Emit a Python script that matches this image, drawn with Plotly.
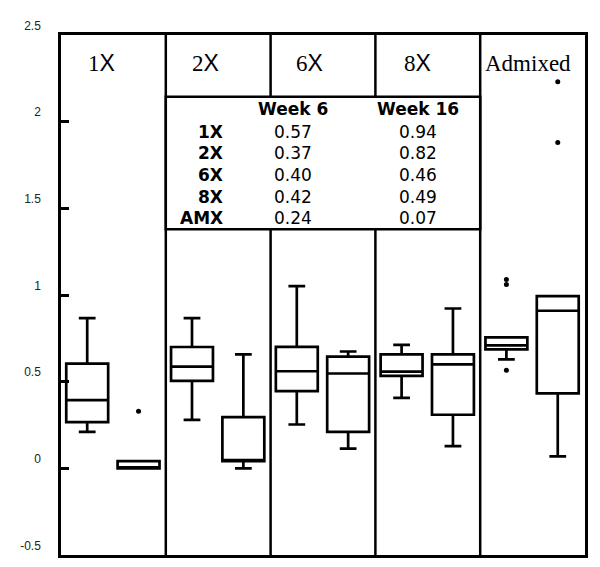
import plotly.graph_objects as go

# ---------------- data ----------------
groups = ["1X", "2X", "6X", "8X", "Admixed"]

# week 6 box statistics per group
w6_low = [0.21, 0.28, 0.253, 0.406, 0.629]
w6_q1 = [0.267, 0.505, 0.446, 0.533, 0.686]
w6_med = [0.394, 0.587, 0.56, 0.558, 0.709]
w6_q3 = [0.604, 0.70, 0.701, 0.657, 0.756]
w6_high = [0.867, 0.867, 1.051, 0.712, 0.756]

# week 16 box statistics per group
w16_low = [0.0, 0.0, 0.114, 0.128, 0.069]
w16_q1 = [0.0, 0.042, 0.21, 0.309, 0.432]
w16_med = [0.0, 0.042, 0.547, 0.60, 0.909]
w16_q3 = [0.042, 0.295, 0.644, 0.657, 0.994]
w16_high = [0.042, 0.657, 0.674, 0.922, 0.994]

# outliers: (group index, value)
w6_out_group = [4, 4, 4]
w6_out_val = [1.06, 1.09, 0.566]
w16_out_group = [0, 4, 4]
w16_out_val = [0.33, 2.23, 1.88]

# inset table
table_cols = ["Week 6", "Week 16"]
table_rows = ["1X", "2X", "6X", "8X", "AMX"]
table_w6 = ["0.57", "0.37", "0.40", "0.42", "0.24"]
table_w16 = ["0.94", "0.82", "0.46", "0.49", "0.07"]

y_ticks = [-0.5, 0, 0.5, 1, 1.5, 2, 2.5]
y_tick_text = ["-0.5", "0", "0.5", "1", "1.5", "2", "2.5"]

# ---------------- layout helpers ----------------
W, H = 600, 567
ML, MR, MT, MB = 61, 13, 35, 12
PW, PH = W - ML - MR, H - MT - MB
Y0, Y1 = -0.5, 2.5


def px_x(px):
    return (px - ML) / PW * 5


def px_y(py):
    return Y1 - (py - MT) / PH * (Y1 - Y0)


n = len(groups)
pos6 = [i + 0.25 for i in range(n)]
pos16 = [i + 0.74 for i in range(n)]

box_line = dict(color="black", width=2.7)

fig = go.Figure()
fig.add_trace(go.Box(
    x=pos6, q1=w6_q1, median=w6_med, q3=w6_q3,
    lowerfence=w6_low, upperfence=w6_high,
    width=0.4, whiskerwidth=0.4, fillcolor="rgba(255,255,255,0)",
    line=box_line, boxpoints=False, name="Week 6", showlegend=False,
))
fig.add_trace(go.Box(
    x=pos16, q1=w16_q1, median=w16_med, q3=w16_q3,
    lowerfence=w16_low, upperfence=w16_high,
    width=0.4, whiskerwidth=0.4, fillcolor="rgba(255,255,255,0)",
    line=box_line, boxpoints=False, name="Week 16", showlegend=False,
))
fig.add_trace(go.Scatter(
    x=[pos6[g] for g in w6_out_group], y=w6_out_val, mode="markers",
    marker=dict(color="black", size=5), showlegend=False,
))
fig.add_trace(go.Scatter(
    x=[pos16[g] for g in w16_out_group], y=w16_out_val, mode="markers",
    marker=dict(color="black", size=5), showlegend=False,
))

shapes = []
for k in range(1, n):
    shapes.append(dict(type="line", xref="x", yref="y", x0=k, x1=k, y0=Y0, y1=Y1,
                       line=dict(color="black", width=2.5)))
# inset table box
shapes.append(dict(type="rect", xref="x", yref="y", x0=1, x1=4,
                   y0=px_y(229.3), y1=px_y(96.7), fillcolor="white",
                   line=dict(color="black", width=2.5)))

annotations = []
# panel titles
label_offsets = [0.385, 0.38, 0.37, 0.405, 0.452]
for i, g in enumerate(groups):
    if g.endswith("X"):
        txt = g[:-1] + "<span style='font-family:Liberation Sans'>X</span>"
    else:
        txt = g
    annotations.append(dict(x=i + label_offsets[i], y=px_y(63), xref="x", yref="y",
                            text=txt, showarrow=False, xanchor="center", yanchor="middle",
                            font=dict(family="Liberation Serif", size=23, color="black")))

tfont = dict(family="DejaVu Sans", size=17, color="black")
col_x = [px_x(293.4), px_x(419)]
row_y = [131.7, 153.3, 175, 196.7, 218.3]
for c, name in enumerate(table_cols):
    annotations.append(dict(x=col_x[c], y=px_y(109.3), xref="x", yref="y",
                            text="<b>%s</b>" % name, showarrow=False,
                            xanchor="center", yanchor="middle", font=tfont))
for r, rname in enumerate(table_rows):
    yy = px_y(row_y[r])
    annotations.append(dict(x=px_x(226), y=yy, xref="x", yref="y",
                            text="<b>%s</b>" % rname, showarrow=False,
                            xanchor="right", yanchor="middle", font=tfont))
    annotations.append(dict(x=col_x[0], y=yy, xref="x", yref="y", text=table_w6[r],
                            showarrow=False, xanchor="center", yanchor="middle", font=tfont))
    annotations.append(dict(x=col_x[1], y=yy, xref="x", yref="y", text=table_w16[r],
                            showarrow=False, xanchor="center", yanchor="middle", font=tfont))

fig.update_layout(
    width=W, height=H,
    margin=dict(l=ML, r=MR, t=MT, b=MB),
    paper_bgcolor="white", plot_bgcolor="white",
    shapes=shapes, annotations=annotations,
    xaxis=dict(range=[0, 5], showgrid=False, zeroline=False, showticklabels=False,
               ticks="", showline=True, mirror=True, linecolor="black", linewidth=2.5,
               fixedrange=True),
    yaxis=dict(range=[Y0, Y1], showgrid=False, zeroline=False,
               tickvals=y_ticks, ticktext=y_tick_text,
               ticks="inside", ticklen=8, tickwidth=2.5, tickcolor="black",
               ticklabelposition="outside top", ticklabelstandoff=15,
               tickfont=dict(family="Liberation Sans", size=12, color="#222"),
               showline=True, mirror=True, linecolor="black", linewidth=2.5,
               fixedrange=True),
    showlegend=False,
)

fig.write_html("out.html", config={"displayModeBar": False},
               post_script="document.body.style.margin='0';")
